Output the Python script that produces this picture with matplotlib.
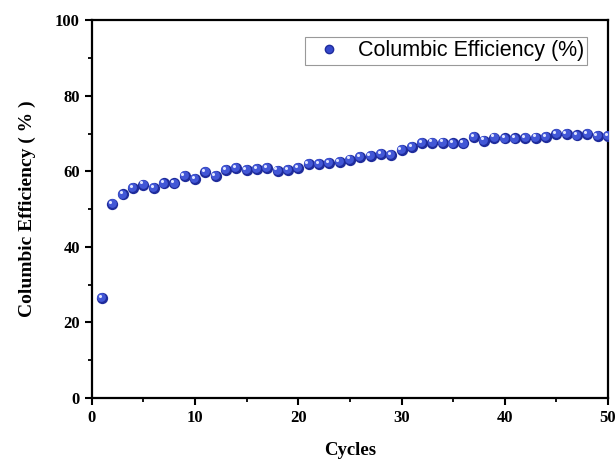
import matplotlib
matplotlib.use("Agg")
import matplotlib.pyplot as plt
import matplotlib.transforms as mtransforms
from matplotlib.lines import Line2D

# Coulombic efficiency per cycle
cycles = list(range(1, 51))
efficiency = [
    26.5, 51.3, 53.9, 55.6, 56.5, 55.6, 56.8, 56.8, 58.8, 57.9,
    59.8, 58.8, 60.3, 60.8, 60.4, 60.6, 60.9, 60.2, 60.4, 60.8,
    62.0, 61.9, 62.2, 62.5, 63.1, 63.7, 64.0, 64.6, 64.3, 65.6,
    66.4, 67.5, 67.6, 67.6, 67.4, 67.4, 69.0, 68.1, 68.9, 68.7,
    68.7, 68.8, 68.9, 69.1, 69.8, 69.8, 69.5, 69.8, 69.3, 69.4,
]
series_label = "Columbic Efficiency (%)"
x_ticks = [0, 10, 20, 30, 40, 50]
y_ticks = [0, 20, 40, 60, 80, 100]

SERIF = "Liberation Serif"
SANS = "Liberation Sans"

fig = plt.figure(figsize=(6.16, 4.59), dpi=100)
ax = fig.add_axes([0.149, 0.133, 0.838, 0.823])

# fake shaded spheres: dark rim, lighter body, white glint
ax.scatter(cycles, efficiency, s=66, color="#1f2c9c", zorder=3, linewidths=0)
ax.scatter(cycles, efficiency, s=40, color="#4257d6", zorder=4, linewidths=0,
           transform=mtransforms.offset_copy(ax.transData, fig, x=-0.6, y=0.6, units="points"))
ax.scatter(cycles, efficiency, s=5, color="#dfe4ff", zorder=5, linewidths=0,
           transform=mtransforms.offset_copy(ax.transData, fig, x=-1.6, y=1.6, units="points"))

ax.set_xlim(0, 50)
ax.set_ylim(0, 100)
ax.set_xticks(x_ticks)
ax.set_yticks(y_ticks)
ax.set_xticks([5, 15, 25, 35, 45], minor=True)
ax.set_yticks([10, 30, 50, 70, 90], minor=True)
ax.tick_params(which="major", direction="out", length=5, width=1.5, top=False, right=False)
ax.tick_params(which="minor", direction="out", length=3, width=1.3, top=False, right=False)
for lab in ax.get_xticklabels() + ax.get_yticklabels():
    lab.set_fontfamily(SERIF)
    lab.set_fontweight("bold")
    lab.set_fontsize(12)
for sp in ax.spines.values():
    sp.set_linewidth(1.6)

ax.set_xlabel("Cycles", fontfamily=SERIF, fontweight="bold", fontsize=13.5, labelpad=12)
ax.set_ylabel("Columbic Efficiency ( % )", fontfamily=SERIF, fontweight="bold",
              fontsize=14, labelpad=14)

handle = Line2D([], [], ls="none", marker="o", markersize=6,
                markerfacecolor="#3549cc", markeredgecolor="#1f2c9c")
leg = ax.legend([handle], [series_label], loc="upper right",
                bbox_to_anchor=(0.96, 0.955), borderaxespad=0, fancybox=False,
                framealpha=1, edgecolor="#999999", prop={"family": SANS, "size": 15.5},
                handletextpad=0.4, handlelength=1.9, borderpad=0.15)
leg.get_frame().set_linewidth(0.8)

fig.savefig("out.png", dpi=100)
